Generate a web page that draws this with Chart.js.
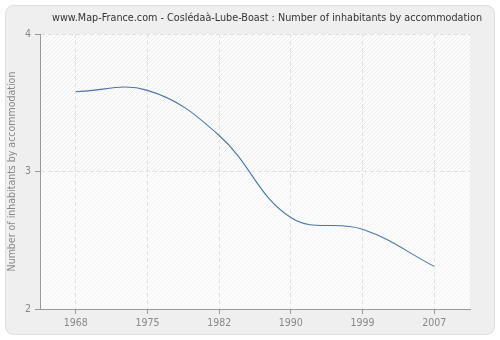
<!DOCTYPE html>
<html>
<head>
<meta charset="utf-8">
<script src="https://cdn.jsdelivr.net/npm/chart.js@4.4.1/dist/chart.umd.min.js"></script>
<style>
  html, body { margin: 0; padding: 0; background: #fff; }
</style>
</head>
<body>
<canvas id="mycanvas" width="500" height="340"></canvas>
<script>
var years = ["1968", "1975", "1982", "1990", "1999", "2007"];
var inhabitants = [3.58, 3.59, 3.262, 2.665, 2.58, 2.31];
var yTicks = [2, 3, 4];

var chartTitle = "www.Map-France.com - Coslédaà-Lube-Boast : Number of inhabitants by accommodation";
var fontFam = "'DejaVu Sans Condensed', 'DejaVu Sans', Verdana, sans-serif";

// small diagonal hatch used for the plot background
function makeHatch(bg, fg) {
  var c = document.createElement("canvas");
  c.width = 4; c.height = 4;
  var g = c.getContext("2d");
  g.fillStyle = bg;
  g.fillRect(0, 0, 4, 4);
  g.strokeStyle = fg;
  g.lineWidth = 1;
  g.beginPath();
  g.moveTo(0, 4); g.lineTo(4, 0);
  g.moveTo(-1, 1); g.lineTo(1, -1);
  g.moveTo(3, 5); g.lineTo(5, 3);
  g.stroke();
  return c;
}

var backdrop = {
  id: "backdrop",
  beforeDraw: function(chart) {
    var ctx = chart.ctx, a = chart.chartArea;
    ctx.save();
    ctx.fillStyle = "#ffffff";
    ctx.fillRect(0, 0, chart.width, chart.height);
    ctx.beginPath();
    ctx.roundRect(5.5, 5.5, 489, 329, 8);
    ctx.fillStyle = "#efefef";
    ctx.fill();
    ctx.strokeStyle = "#dedede";
    ctx.lineWidth = 1;
    ctx.stroke();

    var y3 = chart.scales.y.getPixelForValue(3);
    ctx.fillStyle = ctx.createPattern(makeHatch("#fcfcfc", "#ededed"), "repeat");
    ctx.fillRect(a.left, a.top, a.right - a.left, y3 - a.top);
    ctx.fillStyle = ctx.createPattern(makeHatch("#fcfcfc", "#f4f4f4"), "repeat");
    ctx.fillRect(a.left, y3, a.right - a.left, a.bottom - y3);

    ctx.fillStyle = "#333333";
    ctx.font = "11px 'DejaVu Sans', Verdana, sans-serif";
    ctx.textAlign = "center";
    ctx.textBaseline = "middle";
    ctx.fillText(chartTitle, 267, 18, 430);
    ctx.restore();
  }
};

var ctx = document.getElementById("mycanvas");

var LineGraph = new Chart(ctx, {
  type: "line",
  data: {
    labels: years,
    datasets: [{
      label: "Number of inhabitants by accommodation",
      data: inhabitants,
      fill: false,
      tension: 0.4,
      borderColor: "#4a76a8",
      borderWidth: 1.1,
      pointRadius: 0
    }]
  },
  options: {
    responsive: false,
    animation: false,
    layout: { padding: { top: 34, right: 30, left: 0, bottom: 0 } },
    plugins: {
      legend: { display: false },
      title: { display: false },
      tooltip: { enabled: false }
    },
    scales: {
      x: {
        offset: true,
        afterFit: function(s) { s.height = 31; },
        grid: {
          color: "#e0e0e0",
          tickColor: "#999999",
          tickBorderDash: [],
          tickLength: 5
        },
        border: { color: "#999999", dash: [4, 3] },
        ticks: { color: "#888888", font: { family: fontFam, size: 10.5 }, padding: 3, maxRotation: 0 }
      },
      y: {
        min: 2,
        max: 4,
        afterFit: function(s) { s.width = 40; },
        afterBuildTicks: function(s) { s.ticks = yTicks.map(function(v) { return { value: v }; }); },
        grid: {
          color: "#e0e0e0",
          tickColor: "#999999",
          tickBorderDash: [],
          tickLength: 5
        },
        border: { color: "#999999", dash: [4, 3] },
        ticks: { color: "#888888", font: { family: fontFam, size: 10.5 }, padding: 4 },
        title: {
          display: true,
          text: "Number of inhabitants by accommodation",
          color: "#888888",
          font: { family: fontFam, size: 10.5 },
          padding: { top: 6, bottom: 0 }
        }
      }
    }
  },
  plugins: [backdrop]
});
</script>
</body>
</html>
